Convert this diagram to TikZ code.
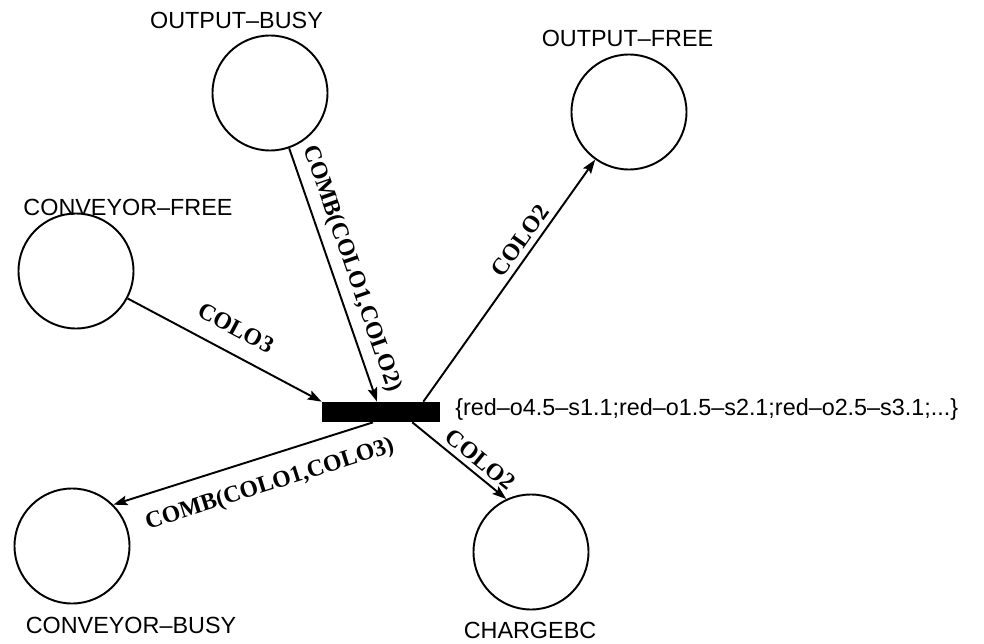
\documentclass[tikz,border=0pt]{standalone}
\usepackage{fontspec}
\setmainfont{Liberation Serif}
\setsansfont{Liberation Sans}
\usetikzlibrary{arrows.meta}

\tikzset{
  placenode/.style={
    circle, draw, line width=1.1pt,
    minimum size=2.3cm, inner sep=0pt
  },
  transbar/.style={
    rectangle, fill=black,
    minimum width=2.36cm, minimum height=0.4cm, inner sep=0pt
  },
  placelabel/.style={font=\sffamily\fontsize{13.3}{16}\selectfont, inner sep=0pt},
  arclabel/.style={font=\bfseries\fontsize{13.5}{16}\selectfont, sloped, inner sep=2pt},
  flow/.style={draw, line width=1.1pt, -{Stealth[length=8pt, width=5.5pt, inset=1.5pt]}}
}

\begin{document}
\begin{tikzpicture}
\useasboundingbox (0,0) rectangle (19.68,12.86);
% Places
\node[placenode] (obusy)  at (5.40,11.00) {};
\node[placenode] (ofree)  at (12.58,10.62) {};
\node[placenode] (cfree)  at (1.52,7.44) {};
\node[placenode] (cbusy)  at (1.44,1.94) {};
\node[placenode] (charge) at (10.62,1.82) {};
% Noms des places
\node[placelabel] (obusyLbl)  at (4.73,12.45) {OUTPUT–BUSY};
\node[placelabel] (ofreeLbl)  at (12.55,12.09) {OUTPUT–FREE};
\node[placelabel] (cfreeLbl)  at (2.56,8.71) {CONVEYOR–FREE};
\node[placelabel] (cbusyLbl)  at (2.62,0.36) {CONVEYOR–BUSY};
\node[placelabel] (chargeLbl) at (10.60,0.26) {CHARGEBC};
% Transition
\node[transbar] (bar) at (7.62,4.62) {};
\node[placelabel, anchor=west] (guard) at (9.10,4.68)
  {\{red–o4.5–s1.1;red–o1.5–s2.1;red–o2.5–s3.1;...\}};
% Arcs d'entree
\draw[flow] (obusy) -- node[arclabel, above=2.5pt, pos=0.5] (inOB) {COMB(COLO1,COLO2)} ([xshift=-0.08cm]bar.north);
\draw[flow] (cfree) -- node[arclabel, above=7pt, pos=0.5] (inCF) {COLO3} (bar.north west);
% Arcs de sortie
\draw[flow] ([xshift=-0.34cm]bar.north east) -- node[arclabel, above=1pt, pos=0.63] (outOF) {COLO2} (ofree);
\draw[flow] ([xshift=-0.56cm]bar.south east) -- node[arclabel, above=1pt, pos=0.63] (outCH) {COLO2} (charge.115);
\draw[flow] ([xshift=-0.16cm]bar.south) -- node[arclabel, below=7.5pt, pos=0.43] (outCB) {COMB(COLO1,COLO3)} (cbusy.45);
\end{tikzpicture}
\end{document}
